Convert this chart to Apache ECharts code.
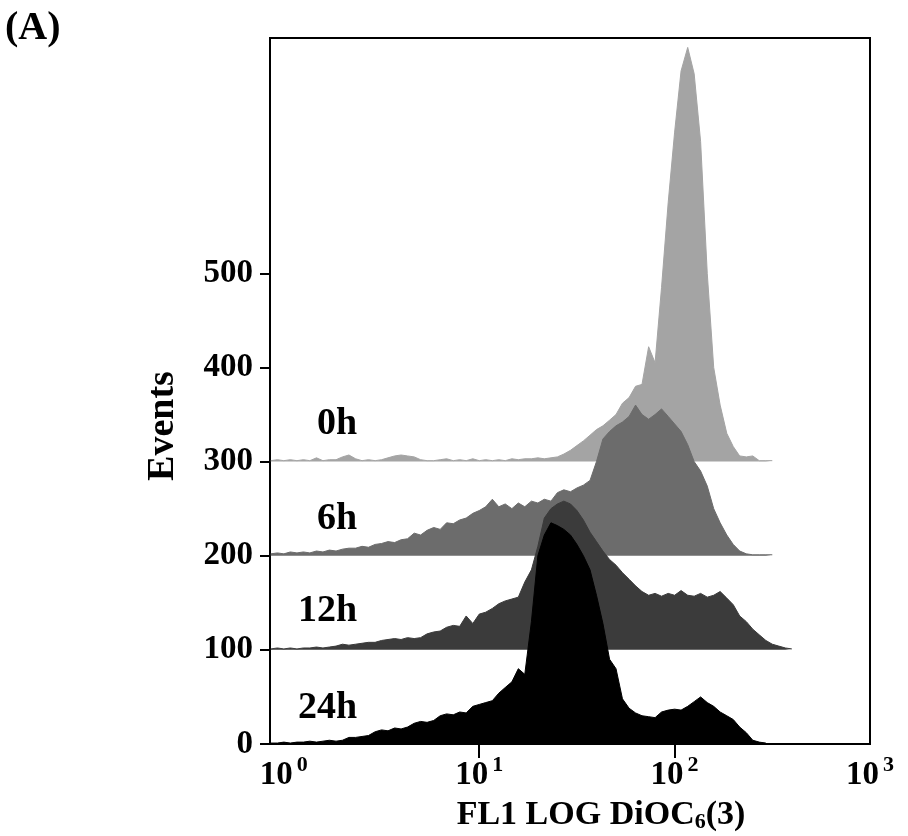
<!DOCTYPE html>
<html>
<head>
<meta charset="utf-8">
<script src="https://cdn.jsdelivr.net/npm/echarts@6/dist/echarts.min.js"></script>
<style>html,body{margin:0;padding:0;background:#fff}#chart{width:908px;height:836px}</style>
</head>
<body>
<div id="chart"></div>
<script>
// Bin positions: log10 of FL1 fluorescence (channel centres)
const logFL1 = [-0.067,-0.033,0,0.033,0.067,0.1,0.133,0.167,0.2,0.233,0.267,0.3,0.333,0.367,0.4,0.433,0.467,0.5,0.533,0.567,
  0.6,0.633,0.667,0.7,0.733,0.767,0.8,0.833,0.867,0.9,0.933,0.967,1.0,1.033,1.067,1.1,1.133,1.167,1.2,1.233,
  1.267,1.3,1.333,1.367,1.4,1.433,1.467,1.5,1.533,1.567,1.6,1.633,1.667,1.7,1.733,1.767,1.8,1.833,1.867,1.9,
  1.933,1.967,2.0,2.033,2.067,2.1,2.133,2.167,2.2,2.233,2.267,2.3,2.333,2.367,2.4,2.433,2.467,2.5,2.533,2.567,2.6];

// Event counts per bin (relative to each histogram's own baseline)
const counts0h = [1,2,1,2,1,2,1,4,1,2,2,5,7,3,1,2,1,2,4,6,7,6,5,2,1,1,2,3,1,2,1,3,1,2,1,2,1,3,2,3,
  3,4,3,4,5,8,12,17,22,28,34,38,44,50,62,68,80,82,122,105,185,275,350,415,440,412,340,200,100,60,
  30,16,6,5,6,1,1,1];
const counts6h = [2,3,2,4,3,4,3,5,4,6,5,7,8,8,10,9,12,13,15,14,17,18,24,22,27,30,28,35,34,38,
  40,45,48,52,60,52,55,50,56,52,58,56,60,58,67,70,68,72,75,80,100,124,132,138,142,148,160,150,145,150,
  156,148,140,132,118,100,90,74,50,35,22,12,5,2,1,1,1,1];
const counts12h = [1,2,1,2,1,2,2,3,2,3,4,6,5,6,7,8,8,10,11,12,11,13,12,13,17,19,20,24,26,25,
  36,28,38,40,44,49,52,54,56,72,85,110,140,150,155,158,155,148,138,125,115,105,96,90,82,75,68,62,58,60,
  57,60,58,63,58,57,60,56,58,62,55,48,36,30,22,16,10,6,4,2,1];
const counts24h = [1,1,2,1,2,2,3,2,3,4,3,4,7,7,8,9,13,15,14,17,16,18,22,24,23,25,30,32,31,34,
  33,40,42,44,46,54,60,66,80,74,130,200,222,235,232,228,222,212,200,185,158,128,90,80,48,38,33,30,29,28,
  34,36,37,36,40,45,50,44,40,34,30,26,18,12,4,2,1];

const sampleNames = ['0h', '6h', '12h', '24h'];
const baselines = [300, 200, 100, 0];
const xTickExponents = [0, 1, 2, 3];
const xTickMarks = [1, 2];
const yTickValues = [0, 100, 200, 300, 400, 500];

const allCounts = [counts0h, counts6h, counts12h, counts24h];
const fills = ['#a4a4a4', '#6c6c6c', '#3b3b3b', '#000000'];
const labelAnchors = [[0.378, 340], [0.378, 239], [0.378, 141], [0.378, 38]];
const FONT = "'Liberation Serif', 'Times New Roman', serif";

const chart = echarts.init(document.getElementById('chart'), null, {renderer: 'canvas'});
chart.setOption({
  animation: false,
  backgroundColor: '#ffffff',
  title: {
    text: '(A)', left: 0, top: 4,
    textStyle: {fontFamily: FONT, fontWeight: 'bold', fontSize: 40, color: '#000'}
  },
  grid: {
    left: 270, right: 38, top: 38, bottom: 92,
    show: true, borderColor: '#000', borderWidth: 2,
    outerBoundsMode: 'none', containLabel: false
  },
  xAxis: {
    type: 'value', min: -0.071, max: 3,
    axisLine: {show: true, onZero: false, lineStyle: {color: '#000', width: 2}},
    axisTick: {show: true, customValues: xTickMarks, length: 14, inside: false, lineStyle: {color: '#000', width: 2}},
    axisLabel: {
      show: true, customValues: xTickExponents, margin: 10,
      formatter: v => '{b|10}{s|' + v + '}',
      rich: {
        b: {fontFamily: FONT, fontWeight: 'bold', fontSize: 33, color: '#000'},
        s: {fontFamily: FONT, fontWeight: 'bold', fontSize: 22, color: '#000', padding: [0, 0, 20, 4]}
      }
    },
    splitLine: {show: false},
    name: 'FL1 LOG DiOC{sub|6}(3)',
    nameLocation: 'middle', nameGap: 53,
    nameTextStyle: {
      fontFamily: FONT, fontWeight: 'bold', fontSize: 34, color: '#000', padding: [0, 0, 0, 62],
      rich: {sub: {fontFamily: FONT, fontWeight: 'bold', fontSize: 22, color: '#000', padding: [14, 0, 0, 0]}}
    }
  },
  yAxis: {
    type: 'value', min: 0, max: 750,
    axisLine: {show: true, onZero: false, lineStyle: {color: '#000', width: 2}},
    axisTick: {show: true, customValues: yTickValues, length: 10, inside: false, lineStyle: {color: '#000', width: 2}},
    axisLabel: {show: true, customValues: yTickValues, margin: 17,
      fontFamily: FONT, fontWeight: 'bold', fontSize: 33, color: '#000'},
    splitLine: {show: false},
    name: 'Events', nameLocation: 'middle', nameGap: 88, nameRotate: 90,
    nameTextStyle: {fontFamily: FONT, fontWeight: 'bold', fontSize: 38, color: '#000', padding: [0, 70, 0, 0]}
  },
  series: sampleNames.map((name, i) => ({
    name: name,
    type: 'line',
    symbol: 'none',
    silent: true,
    z: 2 + i,
    data: allCounts[i].map((c, j) => [logFL1[j], baselines[i] + c]),
    lineStyle: {width: 1, color: fills[i]},
    areaStyle: {color: fills[i], opacity: 1, origin: baselines[i]},
    markPoint: {
      symbol: 'circle', symbolSize: 1, silent: true,
      itemStyle: {color: 'rgba(0,0,0,0)'},
      label: {show: true, position: 'left', distance: 0, formatter: name,
        fontFamily: FONT, fontWeight: 'bold', fontSize: 38, color: '#000'},
      data: [{coord: labelAnchors[i]}]
    }
  }))
});
</script>
</body>
</html>
